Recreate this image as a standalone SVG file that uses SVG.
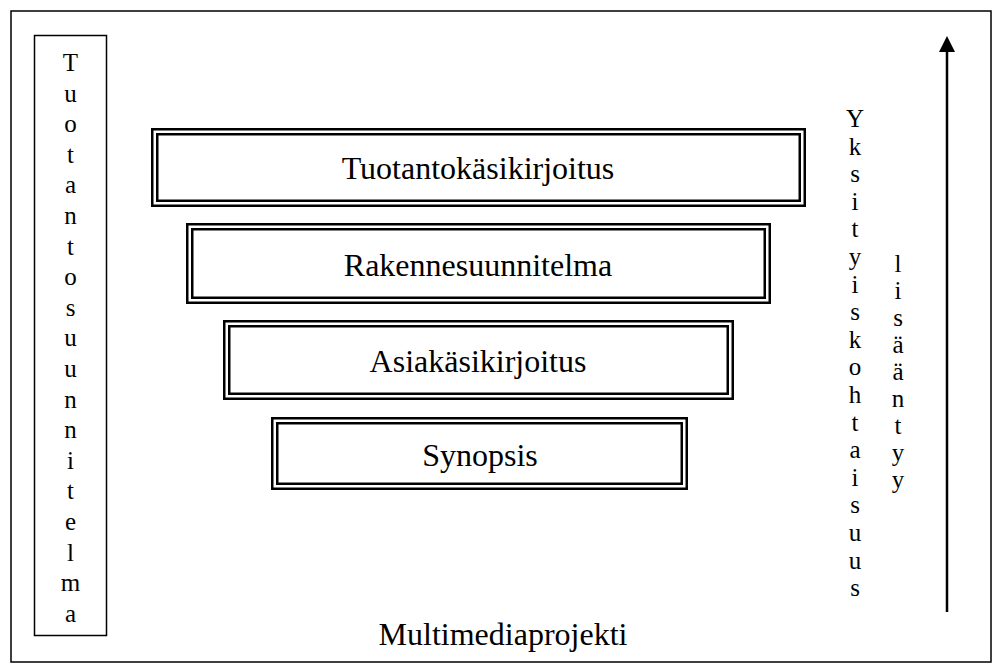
<svg xmlns="http://www.w3.org/2000/svg" width="993" height="663" viewBox="0 0 993 663">
<style>
.t{font-family:"Liberation Serif","Times New Roman",serif;fill:#000}
.title{font-size:32px;text-anchor:middle}
.v{font-size:25px;text-anchor:middle}
.o{fill:none;stroke:#000;stroke-width:2.5}
.i{fill:none;stroke:#000;stroke-width:2.5}
</style>
<rect width="993" height="663" fill="#fff"/>
<rect id="frame" x="11" y="11" width="980" height="651" fill="none" stroke="#000" stroke-width="1.5"/>
<g id="tuotantosuunnitelma">
<rect x="34.5" y="35.5" width="72" height="600" fill="none" stroke="#000" stroke-width="1.5"/>
<text class="t v">
<tspan x="70.5" y="71">T</tspan><tspan x="70.5" y="101.6">u</tspan><tspan x="70.5" y="132.2">o</tspan><tspan x="70.5" y="162.8">t</tspan><tspan x="70.5" y="193.4">a</tspan><tspan x="70.5" y="224">n</tspan><tspan x="70.5" y="254.6">t</tspan><tspan x="70.5" y="285.2">o</tspan><tspan x="70.5" y="315.8">s</tspan><tspan x="70.5" y="346.4">u</tspan><tspan x="70.5" y="377">u</tspan><tspan x="70.5" y="407.6">n</tspan><tspan x="70.5" y="438.2">n</tspan><tspan x="70.5" y="468.8">i</tspan><tspan x="70.5" y="499.4">t</tspan><tspan x="70.5" y="530">e</tspan><tspan x="70.5" y="560.6">l</tspan><tspan x="70.5" y="591.2">m</tspan><tspan x="70.5" y="621.8">a</tspan>
</text>
</g>
<g id="tuotantokasikirjoitus">
<rect class="o" x="152.25" y="129.25" width="652.5" height="76.5"/>
<rect class="i" x="157.25" y="134.25" width="642.5" height="66.5"/>
<text class="t title" x="478" y="179">Tuotantokäsikirjoitus</text>
</g>
<g id="rakennesuunnitelma">
<rect class="o" x="187.25" y="224.25" width="582.5" height="78.5"/>
<rect class="i" x="192.25" y="229.25" width="572.5" height="68.5"/>
<text class="t title" x="478" y="276">Rakennesuunnitelma</text>
</g>
<g id="asiakasikirjoitus">
<rect class="o" x="224.25" y="321.25" width="508.5" height="77.5"/>
<rect class="i" x="229.25" y="326.25" width="498.5" height="67.5"/>
<text class="t title" x="478" y="372">Asiakäsikirjoitus</text>
</g>
<g id="synopsis">
<rect class="o" x="272.25" y="418.25" width="414.5" height="70.5"/>
<rect class="i" x="277.25" y="423.25" width="404.5" height="60.5"/>
<text class="t title" x="480" y="466">Synopsis</text>
</g>
<g id="yksityiskohtaisuus">
<text class="t v">
<tspan x="855" y="127">Y</tspan><tspan x="855" y="154.6">k</tspan><tspan x="855" y="182.2">s</tspan><tspan x="855" y="209.8">i</tspan><tspan x="855" y="237.4">t</tspan><tspan x="855" y="265">y</tspan><tspan x="855" y="292.6">i</tspan><tspan x="855" y="320.2">s</tspan><tspan x="855" y="347.8">k</tspan><tspan x="855" y="375.4">o</tspan><tspan x="855" y="403">h</tspan><tspan x="855" y="430.6">t</tspan><tspan x="855" y="458.2">a</tspan><tspan x="855" y="485.8">i</tspan><tspan x="855" y="513.4">s</tspan><tspan x="855" y="541">u</tspan><tspan x="855" y="568.6">u</tspan><tspan x="855" y="596.2">s</tspan>
</text>
</g>
<g id="lisaantyy">
<text class="t v">
<tspan x="898" y="272">l</tspan><tspan x="898" y="299">i</tspan><tspan x="898" y="326">s</tspan><tspan x="898" y="353">ä</tspan><tspan x="898" y="380">ä</tspan><tspan x="898" y="407">n</tspan><tspan x="898" y="434">t</tspan><tspan x="898" y="461">y</tspan><tspan x="898" y="488">y</tspan>
</text>
</g>
<g id="connectors">
<line x1="947" y1="612" x2="947" y2="52" stroke="#000" stroke-width="2.5"/>
<path d="M939,52 L947,36 L955,52 Z" fill="#000"/>
</g>
<g id="multimediaprojekti">
<text class="t title" x="503" y="645">Multimediaprojekti</text>
</g>
</svg>
